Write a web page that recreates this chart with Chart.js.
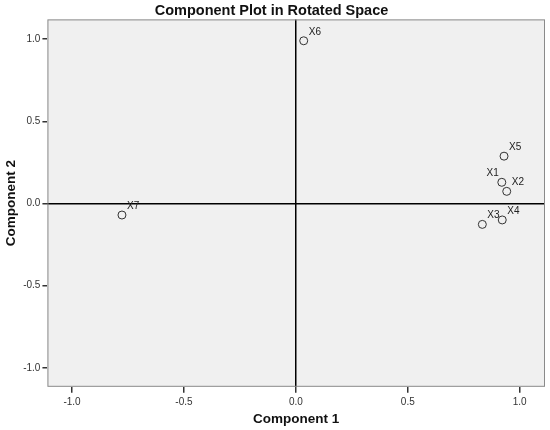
<!DOCTYPE html>
<html>
<head>
<meta charset="utf-8">
<script src="https://cdn.jsdelivr.net/npm/chart.js@4"></script>
<style>
  html, body { margin: 0; padding: 0; background: #fff; }
  #wrap { width: 550px; height: 430px; }
</style>
</head>
<body>
<div id="wrap"><canvas id="plot" width="550" height="430"></canvas></div>
<script>
// ── DATA ──
const varNames = ['X1', 'X2', 'X3', 'X4', 'X5', 'X6', 'X7'];
const comp1 = [0.920, 0.942, 0.833, 0.922, 0.930, 0.035, -0.777];
const comp2 = [0.129, 0.074, -0.127, -0.100, 0.288, 0.990, -0.070];
const axisTicks = [-1.0, -0.5, 0.0, 0.5, 1.0];

const FONT = 'Arial, "Liberation Sans", sans-serif';
// labels that sit on the left of their marker
const leftLabels = ['X1'];

// plot panel: grey fill + border
const panelBg = {
  id: 'panelBg',
  beforeDraw(chart) {
    const { ctx, chartArea: a } = chart;
    ctx.save();
    ctx.fillStyle = '#f0f0f0';
    ctx.fillRect(a.left, a.top, a.right - a.left, a.bottom - a.top);
    ctx.restore();
  },
  afterDraw(chart) {
    const { ctx, chartArea: a } = chart;
    ctx.save();
    ctx.strokeStyle = '#8a8a8a';
    ctx.lineWidth = 1;
    ctx.strokeRect(a.left + 0.5, a.top + 0.5, a.right - a.left - 1, a.bottom - a.top - 1);
    ctx.restore();
  }
};

// variable labels next to each point
const pointLabels = {
  id: 'pointLabels',
  afterDatasetsDraw(chart) {
    const { ctx } = chart;
    const meta = chart.getDatasetMeta(0);
    ctx.save();
    ctx.font = '10px ' + FONT;
    ctx.fillStyle = '#222';
    ctx.textBaseline = 'alphabetic';
    meta.data.forEach((pt, i) => {
      const left = leftLabels.includes(varNames[i]);
      ctx.textAlign = left ? 'right' : 'left';
      ctx.fillText(varNames[i], left ? pt.x - 3 : pt.x + 5, pt.y - 6);
    });
    ctx.restore();
  }
};

const zeroGrid = c => (c.tick && c.tick.value === 0 ? '#000' : 'rgba(0,0,0,0)');

new Chart(document.getElementById('plot').getContext('2d'), {
  type: 'scatter',
  data: {
    datasets: [{
      data: comp1.map((x, i) => ({ x, y: comp2[i] })),
      pointRadius: 4,
      pointHoverRadius: 4,
      pointBorderWidth: 1,
      pointBorderColor: '#333',
      pointBackgroundColor: 'rgba(0,0,0,0)'
    }]
  },
  options: {
    responsive: false,
    animation: false,
    layout: { padding: { top: 0, right: 4, bottom: 3, left: -3 } },
    plugins: {
      legend: { display: false },
      tooltip: { enabled: false },
      title: {
        display: true,
        text: 'Component Plot in Rotated Space',
        color: '#111',
        font: { family: FONT, size: 14.5, weight: 'bold' },
        padding: { top: 2, bottom: 0 }
      }
    },
    scales: {
      x: {
        type: 'linear',
        min: -1.11, max: 1.113,
        afterBuildTicks: ax => { ax.ticks = axisTicks.map(v => ({ value: v })); },
        afterFit: ax => { ax.paddingRight = 0; },
        border: { display: false },
        grid: { color: zeroGrid, lineWidth: 1.5, tickColor: '#333', tickLength: 6, tickWidth: 1.5 },
        ticks: {
          color: '#333', padding: 3,
          font: { family: FONT, size: 10 },
          callback: v => v.toFixed(1)
        },
        title: {
          display: true, text: 'Component 1', color: '#111',
          font: { family: FONT, size: 13.5, weight: 'bold' },
          padding: { top: 0, bottom: 0 }
        }
      },
      y: {
        type: 'linear',
        min: -1.115, max: 1.12,
        afterBuildTicks: ax => { ax.ticks = axisTicks.map(v => ({ value: v })); },
        border: { display: false },
        grid: { color: zeroGrid, lineWidth: 1.5, tickColor: '#333', tickLength: 5, tickWidth: 1.5 },
        ticks: {
          color: '#333', padding: 2,
          font: { family: FONT, size: 10 },
          callback: v => v.toFixed(1)
        },
        title: {
          display: true, text: 'Component 2', color: '#111',
          font: { family: FONT, size: 13.5, weight: 'bold' },
          padding: { top: 6, bottom: 2 }
        }
      }
    }
  },
  plugins: [panelBg, pointLabels]
});
</script>
</body>
</html>
